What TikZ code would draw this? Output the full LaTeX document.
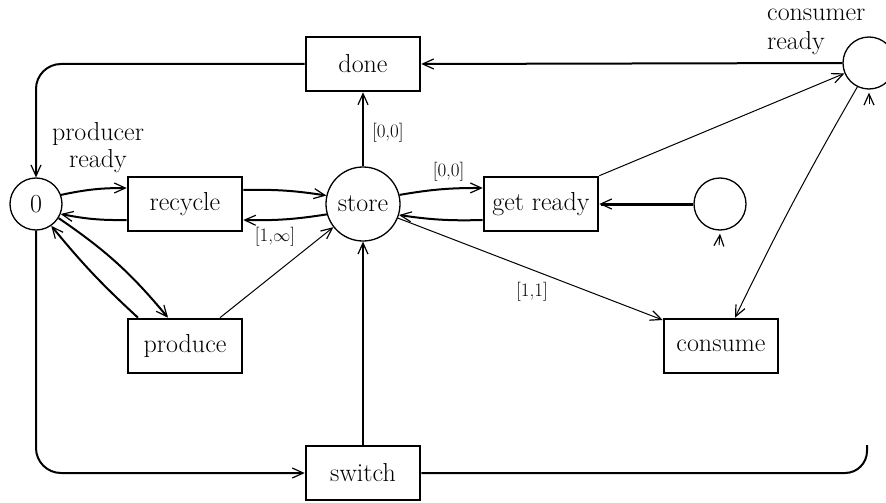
\documentclass[tikz,border=0pt]{standalone}
\usetikzlibrary{arrows.meta}
\begin{document}
\begin{tikzpicture}[x=1pt,y=-1pt,
  box/.style={draw,line width=2.6pt,minimum width=114pt,minimum height=54pt,inner sep=0pt,font=\fontsize{26}{28}\selectfont},
  place/.style={draw,circle,line width=1.3pt,inner sep=0pt,font=\fontsize{26}{28}\selectfont},
  lab/.style={font=\fontsize{19}{20}\selectfont,inner sep=0pt},
  txt/.style={font=\fontsize{26}{28}\selectfont,inner sep=0pt},
  tip/.style={-{Straight Barb[length=11pt,width=10pt,line width=1.2pt]}},
  heavy/.style={tip,line width=2pt},
  thin/.style={tip,line width=1pt},
  thick/.style={tip,line width=3pt}
]
\useasboundingbox (0,0) rectangle (886,503);
% nodes
\node[box] (done) at (363,64) {done};
\node[box] (recycle) at (185,204) {recycle};
\node[box] (getready) at (541,204) {get ready};
\node[box] (produce) at (185,346) {produce};
\node[box] (consume) at (721,346) {consume};
\node[box] (switch) at (363,473) {switch};
\node[place,minimum size=52pt] (zero) at (36,204) {0};
\node[place,minimum size=74pt] (store) at (363,204) {store};
\node[place,minimum size=52pt] (aux) at (720,204) {};
\node[place,minimum size=52pt] (consumer) at (869,63) {};
% text labels
\node[txt] (prodl1) at (98,134) {producer};
\node[txt] (prodl2) at (98,161) {ready};
\node[txt,anchor=west] (consl1) at (767,15) {consumer};
\node[txt,anchor=west] (consl2) at (767,43) {ready};
% connectors
\draw[heavy,rounded corners=25pt] (done.west) -| (zero.north);
\draw[heavy] (consumer.west) -- (done.east);
\draw[heavy] (store.north) -- node[lab,right=8pt,pos=0.45] {[0,0]} (done.south);
\draw[heavy] (zero.20) to[bend left=6] ([yshift=16pt]recycle.west);
\draw[heavy] ([yshift=-16pt]recycle.west) to[bend left=6] (zero.-22);
\draw[heavy] ([yshift=14pt]recycle.east) to[bend left=5] (store.167);
\draw[heavy] (store.196) to[bend left=5] ([yshift=-16pt]recycle.east);
\node[lab] (l1inf) at (275,237) {[1,$\infty$]};
\draw[heavy] (store.14) to[bend left=5] node[lab,above=7pt,pos=0.6] {[0,0]} ([yshift=16pt]getready.west);
\draw[heavy] ([yshift=-16pt]getready.west) to[bend left=5] (store.-17);
\draw[thick] (aux.west) -- (getready.east);
\draw[thin] (getready.north east) -- (consumer.203);
\draw[thin] (consumer.244) to[bend right=2] ([xshift=14pt]consume.north);
\draw[thin] (store.-22) -- ([yshift=26pt]consume.west);
\node[lab] (l11) at (532,292) {[1,1]};
\draw[thin] ([xshift=35pt]produce.north) -- (store.218);
\draw[heavy] (zero.-32) to[bend left=8] ([xshift=-17pt]produce.north);
\draw[heavy] ([xshift=-47pt]produce.north) to[bend left=4] (zero.-55);
\draw[heavy] (switch.north) -- (store.south);
\draw[heavy,rounded corners=25pt] (zero.south) |- (switch.west);
\coordinate (rend) at (867,445);
\draw[line width=2pt,rounded corners=22pt] (switch.east) -| (rend);
\coordinate (ctail) at (869,104);
\draw[thin] (ctail) -- ([yshift=-3pt]consumer.south);
\coordinate (atail) at (719,245);
\draw[thin] (atail) -- ([yshift=-3pt]aux.south);
\end{tikzpicture}
\end{document}
